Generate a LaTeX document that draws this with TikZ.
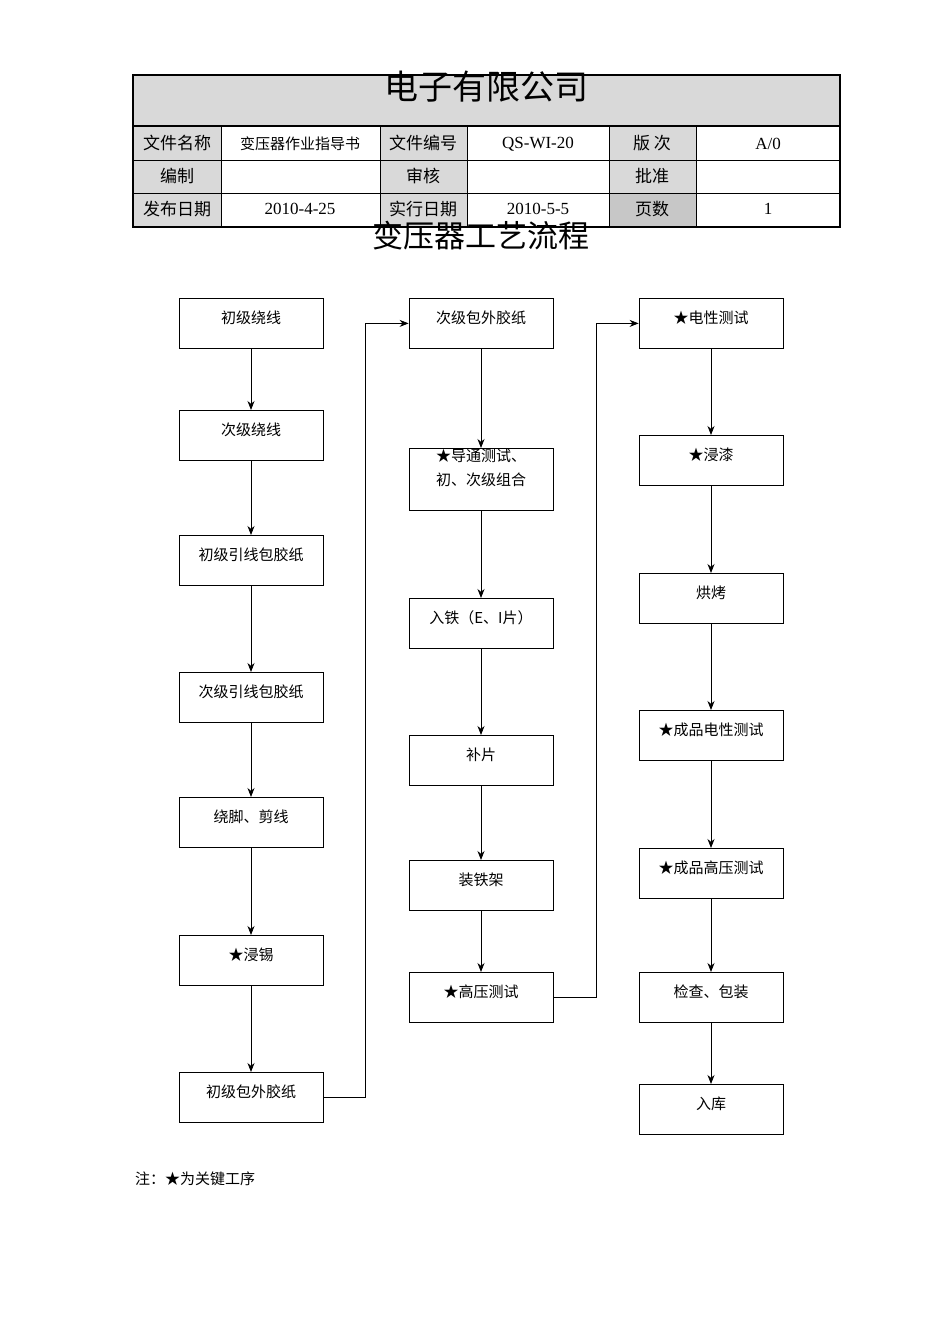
\documentclass[tikz,border=0pt]{standalone}
\usepackage{fontspec}
\setmainfont{Liberation Serif}
\newfontfamily\cjk{Noto Sans CJK SC}
\usetikzlibrary{arrows.meta}
\begin{document}
\begin{tikzpicture}[x=1pt,y=1pt,
  box/.style={draw,line width=0.8pt,anchor=north,minimum width=144,minimum height=50,
    inner sep=0pt,text height=11,text depth=11,align=center,font=\fontsize{15}{24}\cjk},
  flow/.style={draw,line width=0.8pt,-{Stealth[length=9,width=7]}},
  cell/.style={inner sep=0pt,font=\fontsize{17}{20}\cjk},
  num/.style={inner sep=0pt,font=\fontsize{17}{20}\selectfont}]
\definecolor{headGray}{gray}{0.85}
\definecolor{darkGray}{gray}{0.78}
\path[use as bounding box,fill=white] (0,0) rectangle (950,1344);

% header table
\fill[headGray] (133,1218) rectangle (840,1269);
\fill[headGray] (133,1117) rectangle (221,1218);
\fill[headGray] (380,1117) rectangle (467,1218);
\fill[headGray] (609,1150) rectangle (696,1218);
\fill[darkGray] (609,1117) rectangle (696,1150);
\draw[line width=0.6pt] (133,1184) -- (840,1184);
\draw[line width=0.6pt] (133,1151) -- (840,1151);
\foreach \x in {221,380,467,609,696}
  \draw[line width=0.6pt] (\x,1117) -- (\x,1218);
\draw[line width=1.6pt] (133,1218) -- (840,1218);
\draw[line width=1.6pt] (133,1117) rectangle (840,1269);
\node[inner sep=0pt,font=\fontsize{34}{36}\cjk] (company) at (486,1257) {电子有限公司};
\node[cell] (h11) at (177,1201) {文件名称};
\node[inner sep=0pt,font=\fontsize{15}{18}\cjk] (h12) at (300,1200) {变压器作业指导书};
\node[cell] (h13) at (423,1201) {文件编号};
\node[num] (h14) at (538,1200) {QS-WI-20};
\node[cell] (h15) at (652,1201) {版\ 次};
\node[num] (h16) at (768,1200) {A/0};
\node[cell] (h21) at (177,1168) {编制};
\node[cell] (h23) at (423,1168) {审核};
\node[cell] (h25) at (652,1168) {批准};
\node[cell] (h31) at (177,1135) {发布日期};
\node[num] (h32) at (300,1135) {2010-4-25};
\node[cell] (h33) at (423,1135) {实行日期};
\node[num] (h34) at (538,1135) {2010-5-5};
\node[cell] (h35) at (652,1135) {页数};
\node[num] (h36) at (768,1135) {1};
\node[inner sep=0pt,font=\fontsize{31}{34}\cjk] (title) at (481,1108) {变压器工艺流程};

% first column
\node[box] (a1) at (251,1046) {初级绕线};
\node[box] (a2) at (251,934) {次级绕线};
\node[box] (a3) at (251,809) {初级引线包胶纸};
\node[box] (a4) at (251,672) {次级引线包胶纸};
\node[box] (a5) at (251,547) {绕脚、剪线};
\node[box] (a6) at (251,409) {★浸锡};
\node[box] (a7) at (251,272) {初级包外胶纸};
% second column
\node[box] (b1) at (481,1046) {次级包外胶纸};
\node[box,minimum height=62,text height=24,text depth=11] (b2) at (481,896) {★导通测试、\\初、次级组合};
\node[box] (b3) at (481,746) {入铁（E、I片）};
\node[box] (b4) at (481,609) {补片};
\node[box] (b5) at (481,484) {装铁架};
\node[box] (b6) at (481,372) {★高压测试};
% third column
\node[box] (c1) at (711,1046) {★电性测试};
\node[box] (c2) at (711,909) {★浸漆};
\node[box] (c3) at (711,771) {烘烤};
\node[box] (c4) at (711,634) {★成品电性测试};
\node[box] (c5) at (711,496) {★成品高压测试};
\node[box] (c6) at (711,372) {检查、包装};
\node[box] (c7) at (711,260) {入库};

\foreach \p/\q in {a1/a2,a2/a3,a3/a4,a4/a5,a5/a6,a6/a7,b1/b2,b2/b3,b3/b4,b4/b5,b5/b6,
    c1/c2,c2/c3,c3/c4,c4/c5,c5/c6,c6/c7}
  \draw[flow] (\p) -- (\q);
\draw[flow] (a7.east) -- ++(42,0) |- (b1.west);
\draw[flow] (b6.east) -- ++(43,0) |- (c1.west);

\node[anchor=west,inner sep=0pt,font=\fontsize{15}{18}\cjk] (note) at (135,165) {注：★为关键工序};
\end{tikzpicture}
\end{document}
